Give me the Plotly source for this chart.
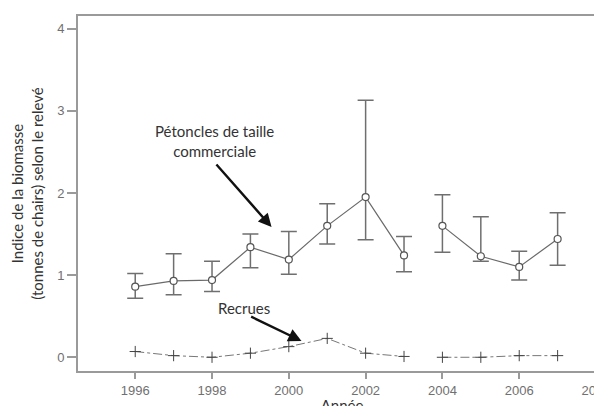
import plotly.graph_objects as go

# Indice de biomasse selon le relevé
annees = [1996, 1997, 1998, 1999, 2000, 2001, 2002, 2003, 2004, 2005, 2006, 2007]
commerciale = [0.86, 0.93, 0.94, 1.34, 1.19, 1.60, 1.95, 1.24, 1.60, 1.23, 1.10, 1.44]
comm_haut = [1.02, 1.26, 1.17, 1.50, 1.53, 1.87, 3.13, 1.47, 1.98, 1.71, 1.29, 1.76]
comm_bas = [0.72, 0.76, 0.80, 1.09, 1.01, 1.38, 1.43, 1.04, 1.28, 1.17, 0.94, 1.12]
recrues = [0.07, 0.02, 0.00, 0.05, 0.13, 0.23, 0.05, 0.01, 0.00, 0.00, 0.02, 0.02]

y_ticks = [0, 1, 2, 3, 4]
x_ticks = [1996, 1998, 2000, 2002, 2004, 2006, 2008]

# pas de releve reliant 2003 et 2004 -> deux segments
segments = [slice(0, 8), slice(8, 12)]

AXE = "#9a9a9a"
TEXTE = "#333333"
POLICE = "Lato, Open Sans, sans-serif"
CHIFFRES = "Liberation Sans, Arial, sans-serif"

fig = go.Figure()

for s in segments:
    x = annees[s]
    y = commerciale[s]
    fig.add_trace(go.Scatter(
        x=x, y=y,
        mode="lines+markers",
        line=dict(color="#6a6a6a", width=1.2),
        marker=dict(symbol="circle", size=7, color="white",
                    line=dict(color="#555555", width=1.2)),
        error_y=dict(
            type="data", symmetric=False,
            array=[h - v for h, v in zip(comm_haut[s], y)],
            arrayminus=[v - b for v, b in zip(y, comm_bas[s])],
            color="#6f6f6f", thickness=1.5, width=8,
        ),
        showlegend=False,
        hoverinfo="skip",
    ))
    fig.add_trace(go.Scatter(
        x=x, y=recrues[s],
        mode="lines+markers",
        line=dict(color="#777777", width=1, dash="dashdot"),
        marker=dict(symbol="cross-thin", size=8,
                    line=dict(color="#444444", width=1)),
        showlegend=False,
        hoverinfo="skip",
    ))

# etiquettes + fleches
fig.add_annotation(x=1998.06, y=2.63, text="Pétoncles de taille<br>commerciale",
                   showarrow=False, font=dict(size=15, color=TEXTE, family=POLICE))
fig.add_annotation(x=1999.55, y=1.586, ax=1998.08, ay=2.365, axref="x", ayref="y",
                   text="", showarrow=True, arrowhead=2, arrowsize=1.1,
                   arrowwidth=2.4, arrowcolor="#111111", standoff=0)
fig.add_annotation(x=1998.83, y=0.60, text="Recrues",
                   showarrow=False, font=dict(size=15, color=TEXTE, family=POLICE))
fig.add_annotation(x=2000.33, y=0.198, ax=1998.98, ay=0.503, axref="x", ayref="y",
                   text="", showarrow=True, arrowhead=2, arrowsize=1.1,
                   arrowwidth=2.4, arrowcolor="#111111", standoff=0)

fig.update_xaxes(
    range=[1994.51, 2008.26],
    tickmode="array", tickvals=x_ticks,
    ticks="outside", ticklen=6, tickcolor=AXE, tickwidth=1.5,
    showline=True, linecolor=AXE, linewidth=2, mirror=True,
    showgrid=False, zeroline=False,
    ticklabeloverflow="allow",
    tickfont=dict(size=13, color="#707070", family=CHIFFRES),
    title=dict(text="Année", standoff=6,
               font=dict(size=15, color=TEXTE, family=POLICE)),
)
fig.update_yaxes(
    range=[-0.167, 4.155],
    tickmode="array", tickvals=y_ticks,
    ticks="outside", ticklen=9, tickcolor=AXE, tickwidth=1.5,
    showline=True, linecolor=AXE, linewidth=2,
    showgrid=False, zeroline=False,
    tickfont=dict(size=13, color="#707070", family=CHIFFRES),
    title=dict(text="Indice de la biomasse<br>(tonnes de chairs) selon le relevé",
               standoff=12, font=dict(size=15, color=TEXTE, family=POLICE)),
)
fig.update_layout(
    width=602, height=406,
    margin=dict(l=70, r=0, t=8, b=43),
    plot_bgcolor="white",
    paper_bgcolor="white",
)

fig.write_html("out.html")
